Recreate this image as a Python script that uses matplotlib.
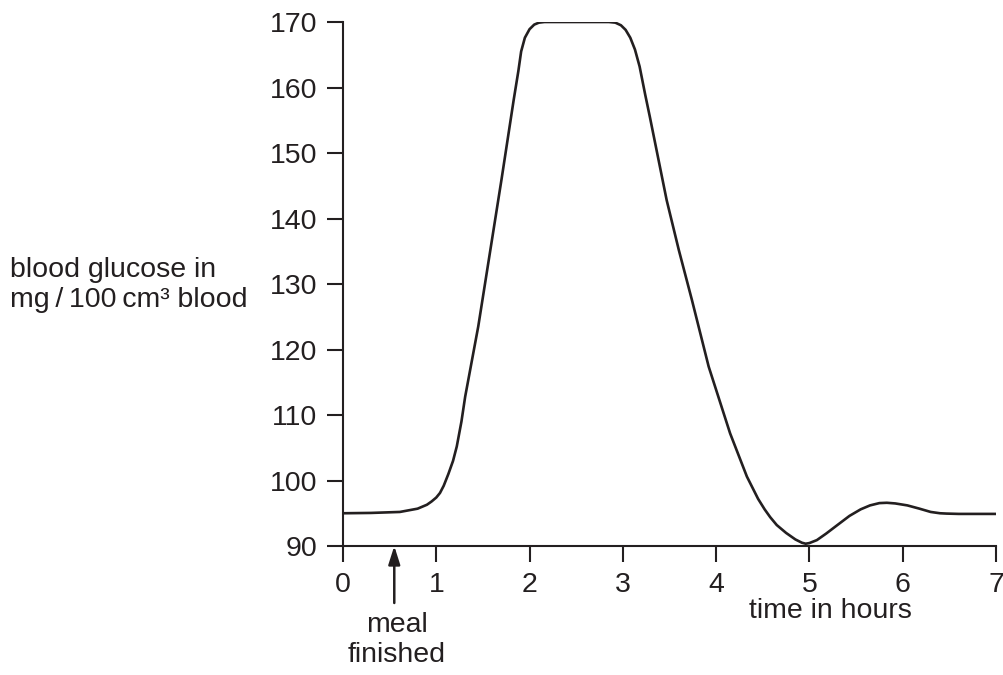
import matplotlib
matplotlib.use("Agg")
import matplotlib.pyplot as plt

plt.rcParams['font.family'] = ['Liberation Sans', 'DejaVu Sans']

# blood glucose curve
hours = [0.0, 0.3, 0.61, 0.8, 0.9, 0.95, 1.0, 1.04, 1.08, 1.13, 1.18, 1.22, 1.27, 1.31,
         1.45, 1.58, 1.70, 1.83, 1.88, 1.91, 1.95, 2.0, 2.05, 2.1, 2.16, 2.3, 2.6,
         2.85, 2.92, 2.98, 3.03, 3.08, 3.13, 3.18, 3.24, 3.29, 3.47, 3.6, 3.74,
         3.92, 4.15, 4.33, 4.45, 4.52, 4.58, 4.65, 4.75, 4.85, 4.92, 4.96, 5.0,
         5.08, 5.18, 5.3, 5.43, 5.55, 5.65, 5.75, 5.83, 5.92, 6.05, 6.18, 6.3,
         6.4, 6.47, 6.6, 7.0]
glucose = [95.0, 95.05, 95.2, 95.7, 96.3, 96.8, 97.4, 98.1, 99.2, 101.0, 103.0, 105.2, 109.0, 112.8,
           123.5, 135.2, 146.0, 158.1, 162.5, 165.5, 167.6, 168.9, 169.6, 169.9, 170.0, 170.0, 170.0,
           170.0, 169.9, 169.5, 168.8, 167.6, 165.8, 163.2, 158.9, 155.5, 142.8, 135.2, 127.6,
           117.4, 107.2, 100.6, 97.2, 95.6, 94.4, 93.2, 92.0, 91.0, 90.5, 90.35, 90.45,
           90.9, 91.9, 93.2, 94.6, 95.6, 96.2, 96.55, 96.6, 96.5, 96.2, 95.7, 95.2,
           95.0, 94.95, 94.9, 94.9]

x_ticks = [0, 1, 2, 3, 4, 5, 6, 7]
y_ticks = [90, 100, 110, 120, 130, 140, 150, 160, 170]
meal_time = 0.55

fig = plt.figure(figsize=(10.04, 6.75), dpi=100)
ax = fig.add_axes([0.3416, 0.1911, 0.6504, 0.7763])

ax.plot(hours, glucose, color='#231f20', linewidth=1.9, solid_joinstyle='round')

ax.set_xlim(0, 7)
ax.set_ylim(90, 170)
ax.set_xticks(x_ticks)
ax.set_yticks(y_ticks)

for side in ['top', 'right']:
    ax.spines[side].set_visible(False)
for side in ['left', 'bottom']:
    ax.spines[side].set_linewidth(1.5)
    ax.spines[side].set_color('#231f20')
ax.tick_params(axis='both', direction='out', length=11.5, width=1.5,
               color='#231f20', labelsize=20.5, labelcolor='#231f20', pad=7)

# meal finished arrow
ax.annotate('', xy=(meal_time, 90), xycoords='data',
            xytext=(meal_time, 81.3), textcoords='data',
            arrowprops=dict(arrowstyle='-|>,head_length=1.1,head_width=0.35',
                            color='#231f20', linewidth=1.8, shrinkA=0, shrinkB=0),
            annotation_clip=False)
fig.text(397 / 1004, 1 - 640 / 675, 'meal\nfinished', ha='center', va='center',
         fontsize=20.5, color='#231f20', linespacing=1.2)

fig.text(830 / 1004, 1 - 611 / 675, 'time in hours', ha='center', va='center',
         fontsize=20.5, color='#231f20')
fig.text(10 / 1004, 1 - 285 / 675, 'blood glucose in\nmg\u2009/\u2009100\u2009cm\u00b3 blood',
         ha='left', va='center', fontsize=20.5, color='#231f20', linespacing=1.2)

fig.savefig('out.png', dpi=100)
